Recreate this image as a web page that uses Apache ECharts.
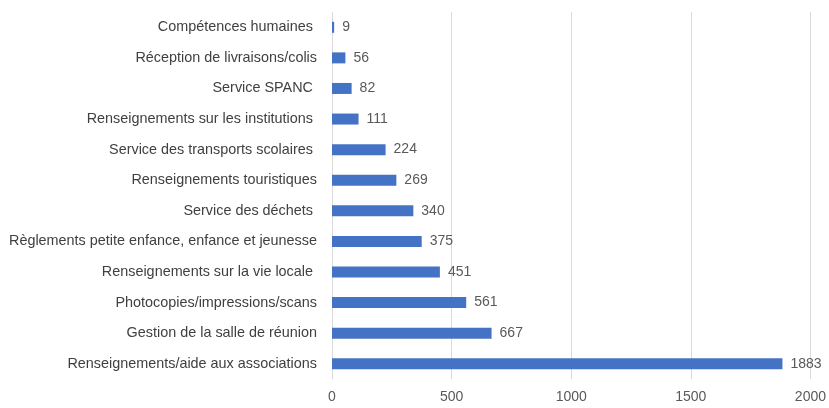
<!DOCTYPE html>
<html><head><meta charset="utf-8">
<script src="https://cdn.jsdelivr.net/npm/echarts@6/dist/echarts.min.js"></script>
<style>html,body{margin:0;padding:0;background:#fff}#c{width:829px;height:408px}</style>
</head><body><div id="c"></div>
<script>
const categories = [
  "Compétences humaines ",
  "Réception de livraisons/colis",
  "Service SPANC ",
  "Renseignements sur les institutions ",
  "Service des transports scolaires ",
  "Renseignements touristiques",
  "Service des déchets ",
  "Règlements petite enfance, enfance et jeunesse",
  "Renseignements sur la vie locale ",
  "Photocopies/impressions/scans",
  "Gestion de la salle de réunion",
  "Renseignements/aide aux associations"
];
const values = [9, 56, 82, 111, 224, 269, 340, 375, 451, 561, 667, 1883];
const axisMin = 0, axisMax = 2000, axisStep = 500;

const chart = echarts.init(document.getElementById('c'));
chart.setOption({
  animation: false,
  grid: {left: 332, right: 15, top: 12, bottom: 29, containLabel: false},
  xAxis: {
    type: 'value', min: axisMin, max: axisMax, interval: axisStep,
    axisLine: {show: false}, axisTick: {show: false},
    splitLine: {lineStyle: {color: '#d9d9d9', width: 1}},
    axisLabel: {color: '#595959', fontFamily: 'Liberation Sans', fontSize: 14, margin: 11,
      formatter: v => String(v)}
  },
  yAxis: {
    type: 'category', data: categories, inverse: true,
    axisLine: {show: false}, axisTick: {show: false},
    axisLabel: {color: '#404040', fontFamily: 'Liberation Sans', fontSize: 14.4, margin: 15}
  },
  series: [{
    type: 'bar', data: values, barWidth: 11,
    itemStyle: {color: '#4472c4'},
    label: {show: true, position: 'right', distance: 8, color: '#595959', fontFamily: 'Liberation Sans', fontSize: 14}
  }]
});
</script></body></html>
